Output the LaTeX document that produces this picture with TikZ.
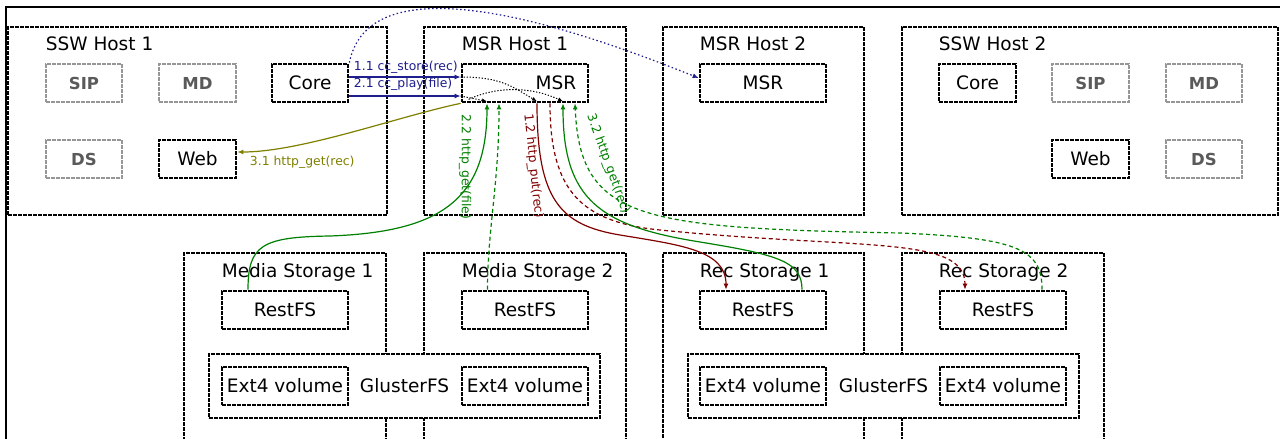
\documentclass[tikz,border=0pt]{standalone}
\usepackage{fontspec}
\setmainfont{DejaVu Sans}
\usetikzlibrary{arrows.meta}
\definecolor{navyc}{RGB}{30,30,140}
\definecolor{olivec}{RGB}{128,128,0}
\definecolor{greenc}{RGB}{0,128,0}
\definecolor{redc}{RGB}{128,0,0}
\definecolor{grayb}{RGB}{150,150,150}
\definecolor{grayt}{RGB}{90,90,90}
\newcommand\bigf{\fontsize{18.5}{22}\selectfont}
\newcommand\smf{\fontsize{12.4}{15}\selectfont}
\newcommand\grf{\fontsize{16.5}{20}\selectfont\bfseries}
\tikzset{
  dbox/.style={draw=black, fill=white, line width=2.7pt, inner sep=0pt, font=\bigf,
    dash pattern=on 4pt off 1pt},
  gbox/.style={dbox, draw=grayb, text=grayt, font=\grf},
  sz/.style 2 args={minimum width=#1, minimum height=#2},
  ttl/.style={font=\bigf, anchor=base west, inner sep=0pt},
  txt/.style={font=\bigf, inner sep=0pt},
  lab/.style={font=\smf, inner sep=0pt},
  conn/.style={line width=1.2pt, -{Latex[length=6pt,width=5pt]}},
  bconn/.style={conn, draw=navyc},
  oconn/.style={conn, draw=olivec},
  gconn/.style={conn, draw=greenc},
  rconn/.style={conn, draw=redc},
  kconn/.style={line width=1pt, draw=black, dash pattern=on 1.3pt off 1.7pt, -{Latex[length=5pt,width=4pt]}},
  dsh/.style={dash pattern=on 4pt off 3pt},
  dots/.style={dash pattern=on 1.5pt off 2.5pt},
}
\begin{document}
\begin{tikzpicture}[x=1pt,y=-1pt]
\useasboundingbox (0,0) rectangle (1280,439);
\clip (0,0) rectangle (1280,439);
\fill[white] (0,0) rectangle (1280,439);
% outer frame
\draw[line width=1.6pt] (6,470) -- (6,7) -- (1300,7);
% hosts
\node[dbox, sz={379pt}{188pt}] (ssw1) at (197.5,121) {};
\node[ttl] (ssw1t) at ([xshift=39pt,yshift=-25pt]ssw1.north west) {SSW Host 1};
\node[gbox, sz={76pt}{38pt}] (sip1) at (84,83) {SIP};
\node[gbox, sz={77pt}{38pt}] (md1) at (197.5,83) {MD};
\node[dbox, sz={76pt}{38pt}] (core1) at (310,83) {Core};
\node[gbox, sz={76pt}{38pt}] (ds1) at (84,159) {DS};
\node[dbox, sz={77pt}{38pt}] (web1) at (197.5,159) {Web};

\node[dbox, sz={202pt}{188pt}] (msrh1) at (525,121) {};
\node[ttl] (msrh1t) at ([xshift=39pt,yshift=-25pt]msrh1.north west) {MSR Host 1};
\node[dbox, sz={126pt}{38pt}] (msr1) at (525,83) {};
\node[txt] (msr1t) at (556,83) {MSR};

\node[dbox, sz={201pt}{188pt}] (msrh2) at (763.5,121) {};
\node[ttl] (msrh2t) at ([xshift=38pt,yshift=-25pt]msrh2.north west) {MSR Host 2};
\node[dbox, sz={126pt}{38pt}] (msr2) at (763,83) {MSR};

\node[dbox, sz={376pt}{188pt}] (ssw2) at (1090,121) {};
\node[ttl] (ssw2t) at ([xshift=38pt,yshift=-25pt]ssw2.north west) {SSW Host 2};
\node[dbox, sz={77pt}{38pt}] (core2) at (977.5,83) {Core};
\node[gbox, sz={77pt}{38pt}] (sip2) at (1090.5,83) {SIP};
\node[gbox, sz={76pt}{38pt}] (md2) at (1204,83) {MD};
\node[dbox, sz={77pt}{38pt}] (web2) at (1090.5,159) {Web};
\node[gbox, sz={76pt}{38pt}] (ds2) at (1204,159) {DS};

% storage
\node[dbox, sz={202pt}{217pt}] (ms1) at (285,361.5) {};
\node[ttl] (ms1t) at ([xshift=39pt,yshift=-26pt]ms1.north west) {Media Storage 1};
\node[dbox, sz={202pt}{217pt}] (ms2) at (525,361.5) {};
\node[ttl] (ms2t) at ([xshift=39pt,yshift=-26pt]ms2.north west) {Media Storage 2};
\node[dbox, sz={201pt}{217pt}] (rs1) at (763.5,361.5) {};
\node[ttl] (rs1t) at ([xshift=38pt,yshift=-26pt]rs1.north west) {Rec Storage 1};
\node[dbox, sz={202pt}{217pt}] (rs2) at (1003,361.5) {};
\node[ttl] (rs2t) at ([xshift=38pt,yshift=-26pt]rs2.north west) {Rec Storage 2};

\node[dbox, sz={126pt}{38pt}] (rest1) at (285,310) {RestFS};
\node[dbox, sz={126pt}{38pt}] (rest2) at (525,310) {RestFS};
\node[dbox, sz={126pt}{38pt}] (rest3) at (763,310) {RestFS};
\node[dbox, sz={126pt}{38pt}] (rest4) at (1003,310) {RestFS};

\node[dbox, sz={391pt}{64pt}] (gl1) at (404.5,386) {GlusterFS};
\node[dbox, sz={126pt}{38pt}] (ext1a) at (285,386) {Ext4 volume};
\node[dbox, sz={126pt}{38pt}] (ext1b) at (525,386) {Ext4 volume};
\node[dbox, sz={391pt}{64pt}] (gl2) at (883.5,386) {GlusterFS};
\node[dbox, sz={126pt}{38pt}] (ext2a) at (763,386) {Ext4 volume};
\node[dbox, sz={126pt}{38pt}] (ext2b) at (1003,386) {Ext4 volume};

% ports on MSR
\coordinate (pA) at ([xshift=-38pt]msr1.south);
\coordinate (pB) at ([xshift=-26pt]msr1.south);
\coordinate (pC) at ([xshift=12pt]msr1.south);
\coordinate (pD) at ([xshift=25pt]msr1.south);
\coordinate (pE) at ([xshift=38pt]msr1.south);
\coordinate (pF) at ([xshift=50pt]msr1.south);

% blue
\draw[bconn] ([yshift=6pt]core1.east) -- node[at start, lab, anchor=base west, xshift=4pt, yshift=7pt, text=navyc] {1.1 cc\_store(rec)} ([yshift=6pt]msr1.west);
\draw[bconn] ([yshift=-13pt]core1.east) -- node[at start, lab, anchor=base west, xshift=4pt, yshift=8.5pt, text=navyc] {2.1 cc\_play(file)} ([yshift=-13pt]msr1.west);
\draw[bconn, dots] (core1.north east) .. controls +(22,-110) and +(-100,-40) .. ([yshift=5pt]msr2.west);

% black dotted inside MSR
\draw[kconn] ([yshift=6pt]msr1.west) .. controls +(40,0) and +(-25,-15) .. ([yshift=2pt]pC);
\draw[kconn] ([yshift=-13pt]msr1.west) -- ([yshift=2pt]pA);
\draw[kconn] ([xshift=8pt,yshift=4pt]msr1.south west) .. controls +(30,-14) and +(-30,-14) .. ([yshift=2pt]pE);

% olive
\draw[oconn] (msr1.south west) .. controls +(-62,13) and +(64,0) .. node[at end, lab, anchor=base west, xshift=12pt, yshift=-13pt, text=olivec] {3.1 http\_get(rec)} ([yshift=7pt]web1.east);

% media storage links
\draw[gconn] ([xshift=-37pt]rest1.north) .. controls (248,245) and (262,237) .. (330,236) .. controls (440,232) and (487,200) .. (pA);
\node[lab, text=greenc, rotate=-90] (l22) at (465,167) {2.2 http\_get(file)};
\draw[gconn, dsh] ([xshift=-37.5pt]rest2.north) .. controls +(0,-60) and +(0,80) .. (pB);

% rec storage links
\draw[rconn] (pC) .. controls (537,200) and (560,225) .. (620,235) .. controls (680,245) and (726,250) .. ([xshift=-37pt]rest3.north);
\node[lab, text=redc, rotate=-84] (l12) at (533,166) {1.2 http\_put(rec)};
\draw[rconn, dsh] (pD) .. controls (550,190) and (580,222) .. (660,230) .. controls (860,250) and (965,235) .. ([xshift=-38pt]rest4.north);
\draw[gconn] ([xshift=39pt]rest3.north) .. controls (802,262) and (780,255) .. (700,242) .. controls (600,226) and (563,200) .. (pE);
\draw[gconn, dsh] ([xshift=39pt]rest4.north) .. controls (1042,250) and (1020,238) .. (900,233) .. controls (640,228) and (580,220) .. (pF);
\node[lab, text=greenc, rotate=-70] (l32) at (608,164) {3.2 http\_get(rec)};
\end{tikzpicture}
\end{document}
